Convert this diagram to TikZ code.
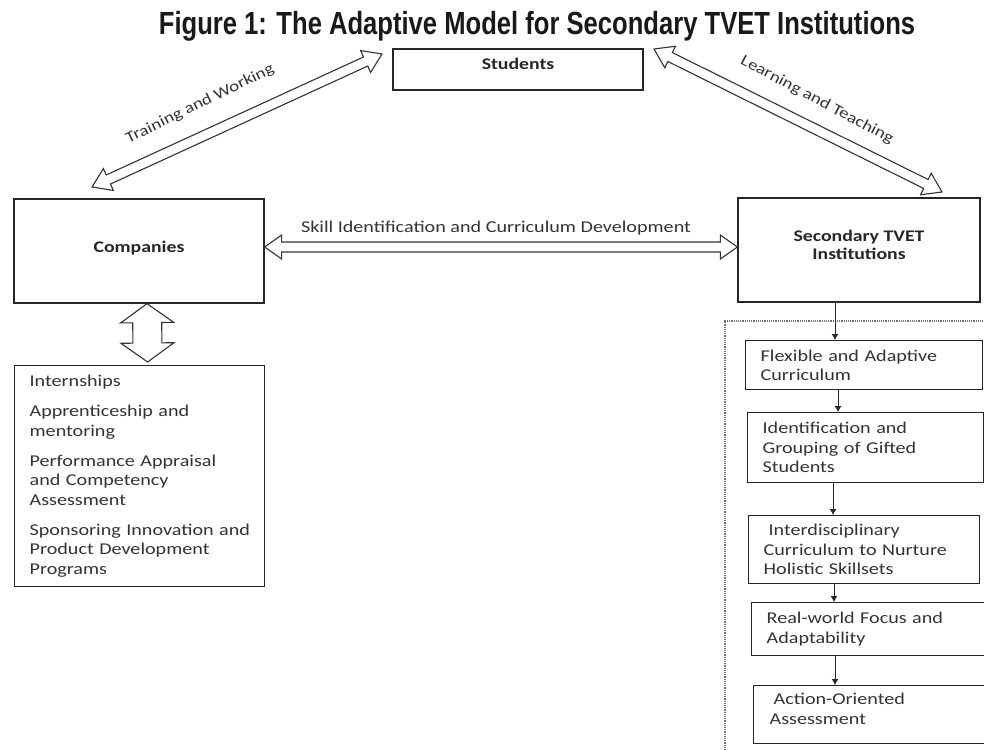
\documentclass[tikz,border=0pt]{standalone}
\usepackage{fontspec}
\setmainfont{Carlito}[FakeStretch=1.22]
\newfontfamily\titlefont{Liberation Sans}[FakeStretch=0.8]
\usetikzlibrary{calc,arrows.meta}
\newcommand\dblarrow[5]{%
  \draw[blockarrow] (#1) -- ($(#1)!#5!(#2)!#4!90:(#2)$) -- ($(#1)!#5!(#2)!#3!90:(#2)$)
   -- ($(#2)!#5!(#1)!#3!-90:(#1)$) -- ($(#2)!#5!(#1)!#4!-90:(#1)$) -- (#2)
   -- ($(#2)!#5!(#1)!#4!90:(#1)$) -- ($(#2)!#5!(#1)!#3!90:(#1)$)
   -- ($(#1)!#5!(#2)!#3!-90:(#2)$) -- ($(#1)!#5!(#2)!#4!-90:(#2)$) -- cycle;}
\begin{document}
\begin{tikzpicture}[x=1pt,y=-1pt,
  every node/.style={font=\fontsize{16.5}{19.5}\selectfont, text=black!80},
  box/.style={draw=black!85, line width=1.3pt, fill=white, inner sep=0pt},
  bbox/.style={box, font=\fontsize{16.2}{18.5}\selectfont\bfseries, text=black!85},
  lbox/.style={box, anchor=north west, align=left, inner xsep=15pt},
  blockarrow/.style={draw=black!80, line width=1.1pt, fill=white, line join=miter},
  sarrow/.style={draw=black!85, line width=0.9pt, -{Latex[length=6pt,width=7pt]}},
  lbl/.style={inner sep=0pt},
  rlbl/.style={inner sep=0pt, font=\fontsize{15.5}{18}\selectfont}]
\useasboundingbox (0,0) rectangle (984,749);
\fill[white] (0,0) rectangle (984,749);

\node[anchor=base, inner sep=0pt, text=black!90, font=\titlefont\bfseries\fontsize{32}{36}\selectfont] (title) at (537,35) {Figure 1: The Adaptive Model for Secondary TVET Institutions};

\node[bbox, minimum width=250pt, minimum height=41pt, text height=11pt, text depth=11pt] (stud) at (518,69.5) {Students};
\node[bbox, minimum width=250pt, minimum height=104pt, text height=11pt, text depth=9pt] (comp) at (139,251) {Companies};
\node[bbox, minimum width=242pt, minimum height=104pt, align=center] (tvet) at (859,250) {Secondary TVET\\Institutions\\[-8pt]\mbox{}};

\node[box, anchor=north west, minimum width=250pt, minimum height=221pt, text width=220pt, align=left, inner xsep=15pt] (list) at (14,365)
 {\mbox{Internships}\\[10.5pt]
  \mbox{Apprenticeship and}\\ \mbox{mentoring}\\[10.5pt]
  \mbox{Performance Appraisal}\\ \mbox{and Competency}\\ \mbox{Assessment}\\[10.5pt]
  \mbox{Sponsoring Innovation and}\\ \mbox{Product Development}\\ \mbox{Programs}};

% connectors
\coordinate (tw1) at (92,187);
\coordinate (tw2) at (382,54);
\coordinate (lt1) at (654,49);
\coordinate (lt2) at (942,192);
\dblarrow{tw1}{tw2}{5pt}{12pt}{18pt}
\dblarrow{lt1}{lt2}{5pt}{12pt}{18pt}
\dblarrow{[yshift=4pt]comp.east}{[yshift=3pt]tvet.west}{5pt}{12pt}{17pt}
\dblarrow{[xshift=8pt]comp.south}{[xshift=8pt,yshift=3pt]list.north}{14.5pt}{26.5pt}{19pt}

\node[rlbl, rotate=26] (twl) at (200,104) {Training and Working};
\node[rlbl, rotate=-28] (ltl) at (817,100) {Learning and Teaching};
\node[lbl] (skl) at (496,228) {Skill Identification and Curriculum Development};

% dotted frame
\draw[densely dotted, draw=black!55, line width=1.2pt] (990,321) -- (725,321) -- (725,755);

% right column
\node[lbox, minimum height=49pt, text width=207pt] (flex) at (745,340)
 {\mbox{Flexible and Adaptive}\\ \mbox{Curriculum}};
\node[lbox, minimum height=70pt, text width=206pt] (ident) at (747,412)
 {\mbox{Identification and}\\ \mbox{Grouping of Gifted}\\ \mbox{Students}};
\node[lbox, minimum height=68pt, text width=201pt] (inter) at (748,515)
 {\mbox{\hspace{5pt}Interdisciplinary}\\ \mbox{Curriculum to Nurture}\\ \mbox{Holistic Skillsets}};
\node[lbox, minimum height=53pt, text width=206pt] (real) at (751,602)
 {\mbox{Real-world Focus and}\\ \mbox{Adaptability}};
\node[lbox, minimum height=58pt, text width=206pt, inner xsep=16pt] (act) at (753,685)
 {\mbox{\hspace{4pt}Action-Oriented}\\ \mbox{Assessment}\\[-8pt]\mbox{}};

\coordinate (c1) at (835,0);
\coordinate (c2) at (838,0);
\coordinate (c3) at (833,0);
\coordinate (c4) at (834,0);
\coordinate (c5) at (835,0);
\draw[sarrow] (tvet.south -| c1) -- (flex.north -| c1);
\draw[sarrow] (flex.south -| c2) -- (ident.north -| c2);
\draw[sarrow] (ident.south -| c3) -- (inter.north -| c3);
\draw[sarrow] (inter.south -| c4) -- (real.north -| c4);
\draw[sarrow] (real.south -| c5) -- (act.north -| c5);
\end{tikzpicture}
\end{document}
